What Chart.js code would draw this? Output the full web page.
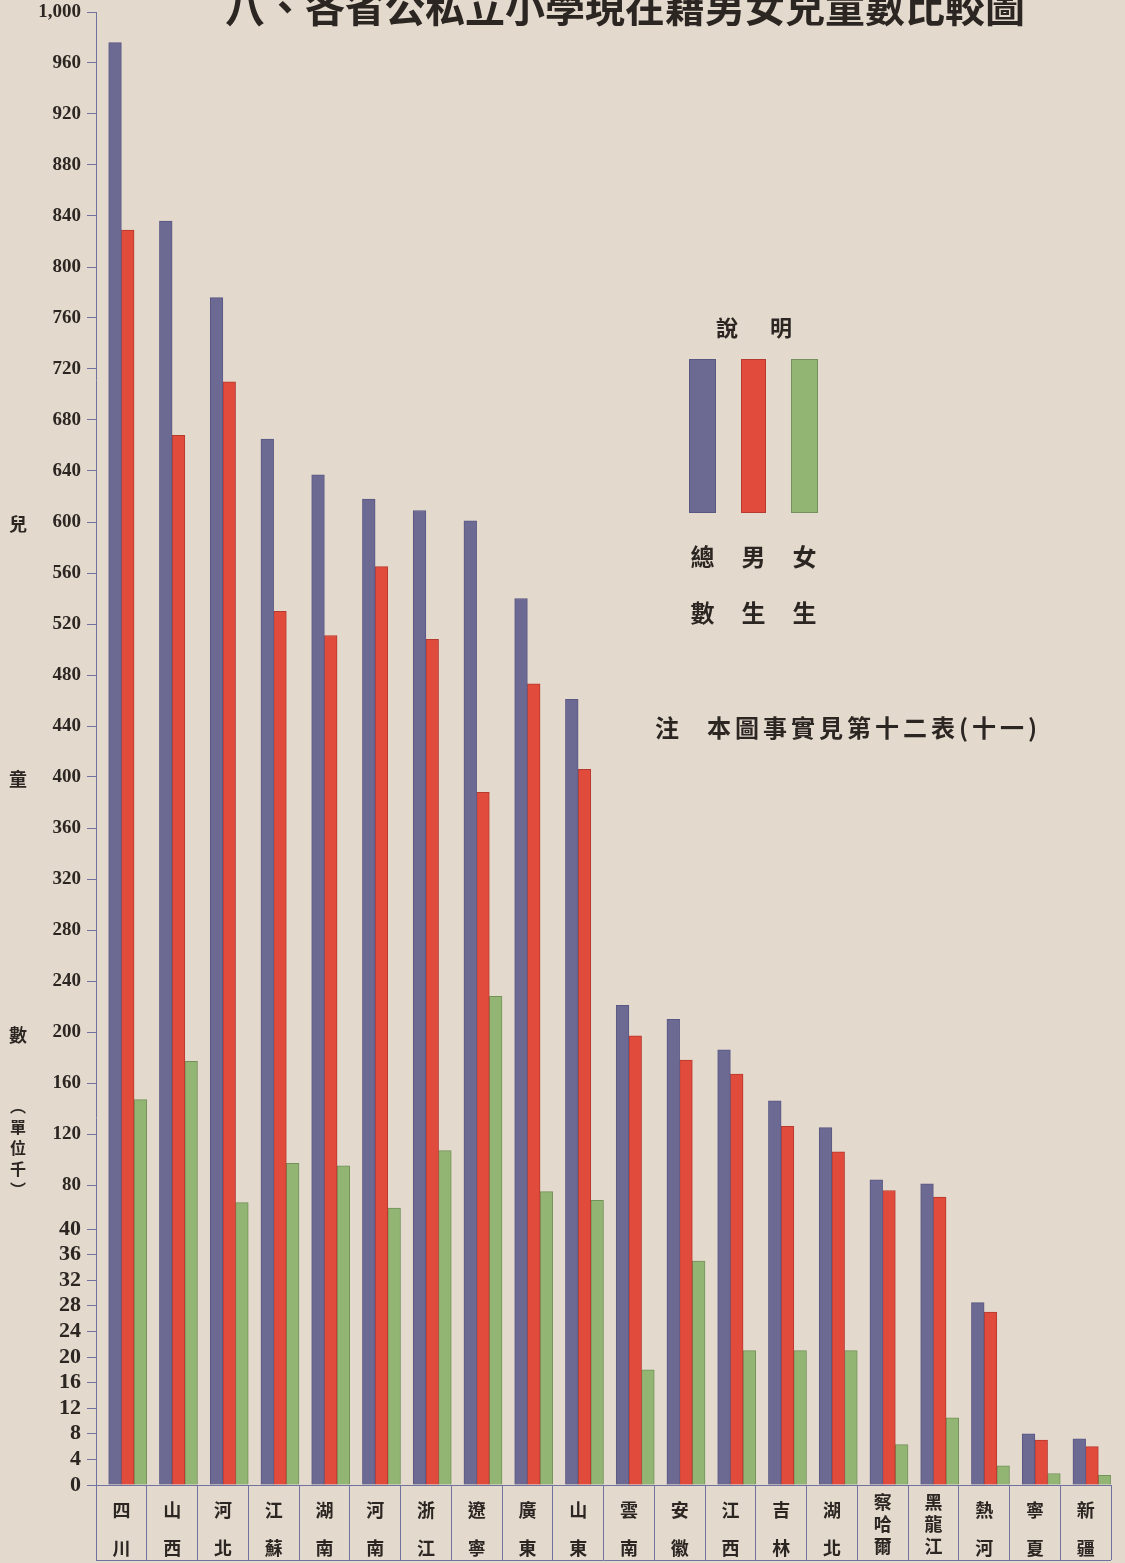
<!DOCTYPE html>
<html lang="zh-Hant">
<head>
<meta charset="UTF-8">
<title>各省公私立小學男女兒童數比較圖</title>
<script src="https://cdn.jsdelivr.net/npm/chart.js"></script>
<style>
  html, body { margin: 0; padding: 0; background: #e3d9cc; }
  .chart-container { position: relative; width: 1125px; height: 1563px; }
</style>
</head>
<body>
<div class="chart-container"><canvas id="kidsChart"></canvas></div>
<script>
// 各省兒童數 (單位千)
const provinces = ['四川', '山西', '河北', '江蘇', '湖南', '河南', '浙江', '遼寧', '廣東', '山東',
                   '雲南', '安徽', '江西', '吉林', '湖北', '察哈爾', '黑龍江', '熱河', '寧夏', '新疆'];
const totalKids = [976, 836, 776, 665, 637, 618, 609, 601, 540, 461, 221, 210, 186, 146, 125, 84, 81, 28.5, 8, 7.2];
const boys      = [829, 668, 710, 530, 511, 565, 508, 388, 473, 406, 197, 178, 167, 126, 106, 75, 69, 27, 7, 6];
const girls     = [147, 177, 64, 97, 95, 59, 107, 228, 74, 66, 18, 35, 21, 21, 21, 6.3, 10.5, 3, 1.8, 1.5];
const yTicks = [0, 4, 8, 12, 16, 20, 24, 28, 32, 36, 40,
                80, 120, 160, 200, 240, 280, 320, 360, 400, 440, 480, 520, 560, 600,
                640, 680, 720, 760, 800, 840, 880, 920, 960, 1000];

const titleText = '八、各省公私立小學現在籍男女兒童數比較圖';
const noteText = '本圖事實見第十二表(十一)';

// the printed axis is stretched below 40 and a bit squeezed between 40 and 80
const scaleBreaks = [0, 40, 80, 1000];
const breakWeights = [0, 256, 300, 1473];

function toAxis(v) {
    for (let i = 1; i < scaleBreaks.length; i++) {
        if (v <= scaleBreaks[i]) {
            const f = (v - scaleBreaks[i - 1]) / (scaleBreaks[i] - scaleBreaks[i - 1]);
            return breakWeights[i - 1] + f * (breakWeights[i] - breakWeights[i - 1]);
        }
    }
    return breakWeights[breakWeights.length - 1];
}
function fromAxis(t) {
    for (let i = 1; i < breakWeights.length; i++) {
        if (t <= breakWeights[i]) {
            const f = (t - breakWeights[i - 1]) / (breakWeights[i] - breakWeights[i - 1]);
            return scaleBreaks[i - 1] + f * (scaleBreaks[i] - scaleBreaks[i - 1]);
        }
    }
    return scaleBreaks[scaleBreaks.length - 1];
}

class BrokenScale extends Chart.LinearScale {
    static id = 'broken';
    getPixelForValue(value) {
        return this.getPixelForDecimal(toAxis(value) / toAxis(this.max));
    }
    getValueForPixel(pixel) {
        return fromAxis(this.getDecimalForPixel(pixel) * toAxis(this.max));
    }
}
Chart.register(BrokenScale);

const ink = '#2c2623';
const axisColor = '#7272a0';
const blue = '#6c6a93', blueEdge = '#595784';
const red = '#e04b3c', redEdge = '#b8392d';
const green = '#93b574', greenEdge = '#72925a';
const cjk = '"Noto Sans CJK TC", "Noto Sans CJK SC", sans-serif';
const serifNum = '"Liberation Serif", "DejaVu Serif", serif';

// title, y-axis caption, legend and note drawn on top
const decorations = {
    id: 'decorations',
    afterDraw(chart) {
        const { ctx, scales } = chart;
        const y = scales.y, x = scales.x;
        ctx.save();
        ctx.fillStyle = ink;
        ctx.textAlign = 'center';
        ctx.textBaseline = 'middle';

        // title, top part is cut off on the page
        ctx.font = 'bold 40px ' + cjk;
        ctx.fillText(titleText, 625, 7);

        // y axis caption
        ctx.font = 'bold 18px ' + cjk;
        ctx.fillText('兒', 18, y.getPixelForValue(600) + 2);
        ctx.fillText('童', 18, y.getPixelForValue(400) + 2);
        ctx.fillText('數', 18, y.getPixelForValue(200) + 3);
        ctx.font = 'bold 16px ' + cjk;
        ['︵', '單', '位', '千', '︶'].forEach((c, i) => ctx.fillText(c, 18, 1106 + i * 21));

        // bottom edge of the name box
        ctx.strokeStyle = axisColor;
        ctx.lineWidth = 1;
        ctx.beginPath();
        ctx.moveTo(x.left, x.top + 75.5);
        ctx.lineTo(x.right, x.top + 75.5);
        ctx.stroke();

        // legend 說明
        ctx.font = 'bold 22px ' + cjk;
        ctx.fillText('說', 727, 328);
        ctx.fillText('明', 781, 328);
        const keys = [
            { fill: blue, edge: blueEdge, x: 689, w: 27, text: ['總', '數'] },
            { fill: red, edge: redEdge, x: 741, w: 25, text: ['男', '生'] },
            { fill: green, edge: greenEdge, x: 791, w: 27, text: ['女', '生'] }
        ];
        ctx.font = 'bold 24px ' + cjk;
        keys.forEach(k => {
            ctx.fillStyle = k.fill;
            ctx.fillRect(k.x, 359, k.w, 154);
            ctx.strokeStyle = k.edge;
            ctx.strokeRect(k.x + 0.5, 359.5, k.w - 1, 153);
            ctx.fillStyle = ink;
            ctx.fillText(k.text[0], k.x + k.w / 2, 557);
            ctx.fillText(k.text[1], k.x + k.w / 2, 613);
        });

        // note
        ctx.font = 'bold 24px ' + cjk;
        ctx.fillText('注', 667, 728);
        ctx.textAlign = 'left';
        ctx.letterSpacing = '4px';
        ctx.fillText(noteText, 707, 728);
        ctx.restore();
    }
};

new Chart(document.getElementById('kidsChart'), {
    type: 'bar',
    data: {
        labels: provinces,
        datasets: [
            // empty slot so each group sits to the right of its box, as printed
            { label: '', data: [] },
            { label: '總數', data: totalKids, backgroundColor: blue, borderColor: blueEdge, borderWidth: 1 },
            { label: '男生', data: boys, backgroundColor: red, borderColor: redEdge, borderWidth: 1 },
            { label: '女生', data: girls, backgroundColor: green, borderColor: greenEdge, borderWidth: 1 }
        ]
    },
    options: {
        responsive: true,
        maintainAspectRatio: false,
        animation: false,
        layout: { padding: { top: 12, right: 14, left: 0, bottom: 0 } },
        datasets: { bar: { barPercentage: 1, categoryPercentage: 1 } },
        plugins: {
            legend: { display: false },
            tooltip: { enabled: false }
        },
        scales: {
            x: {
                grid: { offset: true, drawOnChartArea: false, drawTicks: true, tickLength: 75, color: axisColor },
                border: { color: axisColor },
                ticks: {
                    autoSkip: false,
                    maxRotation: 0,
                    padding: -69,
                    color: ink,
                    callback: (value, index) => Array.from(provinces[index]),
                    font: (c) => ({
                        family: cjk, size: 18, weight: 'bold',
                        lineHeight: provinces[c.index].length > 2 ? '22px' : '38px'
                    })
                },
                afterFit: (scale) => { scale.height = 78; }
            },
            y: {
                type: 'broken',
                min: 0,
                max: 1000,
                afterBuildTicks: (scale) => { scale.ticks = yTicks.map(v => ({ value: v })); },
                grid: { drawOnChartArea: false, tickLength: 9, color: axisColor },
                border: { color: axisColor },
                ticks: {
                    autoSkip: false,
                    padding: 6,
                    color: ink,
                    callback: (value) => value >= 1000 ? value.toLocaleString('en-US') : String(value),
                    font: (c) => c.index <= 10
                        ? { family: serifNum, size: 22, weight: 'bold' }
                        : { family: serifNum, size: 19, weight: 'bold' }
                },
                afterFit: (scale) => {
                    scale.width = 96;
                    scale.paddingTop = 0;
                    scale.paddingBottom = 0;
                }
            }
        }
    },
    plugins: [decorations]
});
</script>
</body>
</html>
